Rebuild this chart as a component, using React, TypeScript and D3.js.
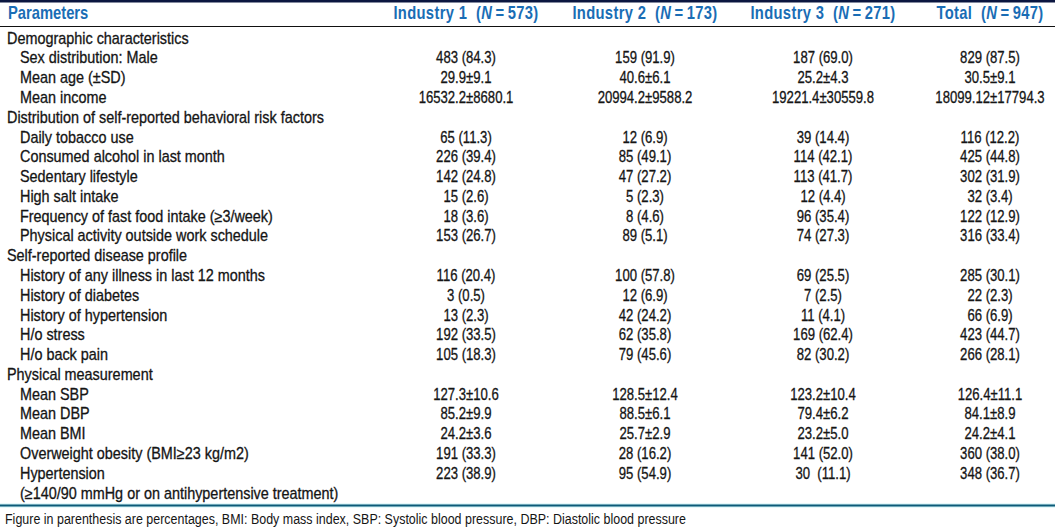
import React from "react";
import * as d3 from "d3";

const columnKeys = ["Parameters", "Industry 1", "Industry 2", "Industry 3", "Total"];
const columnNs = ["", "573", "173", "271", "947"];

const rowLabels = [
  "Demographic characteristics",
  "Sex distribution: Male",
  "Mean age (\u00b1SD)",
  "Mean income",
  "Distribution of self-reported behavioral risk factors",
  "Daily tobacco use",
  "Consumed alcohol in last month",
  "Sedentary lifestyle",
  "High salt intake",
  "Frequency of fast food intake (\u22653/week)",
  "Physical activity outside work schedule",
  "Self-reported disease profile",
  "History of any illness in last 12 months",
  "History of diabetes",
  "History of hypertension",
  "H/o stress",
  "H/o back pain",
  "Physical measurement",
  "Mean SBP",
  "Mean DBP",
  "Mean BMI",
  "Overweight obesity (BMI\u226523 kg/m2)",
  "Hypertension",
  "(\u2265140/90 mmHg or on antihypertensive treatment)",
];

const rowLevels = [0, 1, 1, 1, 0, 1, 1, 1, 1, 1, 1, 0, 1, 1, 1, 1, 1, 0, 1, 1, 1, 1, 1, 1];

const industry1 = [
  "", "483 (84.3)", "29.9\u00b19.1", "16532.2\u00b18680.1",
  "", "65 (11.3)", "226 (39.4)", "142 (24.8)", "15 (2.6)", "18 (3.6)", "153 (26.7)",
  "", "116 (20.4)", "3 (0.5)", "13 (2.3)", "192 (33.5)", "105 (18.3)",
  "", "127.3\u00b110.6", "85.2\u00b19.9", "24.2\u00b13.6", "191 (33.3)", "223 (38.9)", "",
];
const industry2 = [
  "", "159 (91.9)", "40.6\u00b16.1", "20994.2\u00b19588.2",
  "", "12 (6.9)", "85 (49.1)", "47 (27.2)", "5 (2.3)", "8 (4.6)", "89 (5.1)",
  "", "100 (57.8)", "12 (6.9)", "42 (24.2)", "62 (35.8)", "79 (45.6)",
  "", "128.5\u00b112.4", "88.5\u00b16.1", "25.7\u00b12.9", "28 (16.2)", "95 (54.9)", "",
];
const industry3 = [
  "", "187 (69.0)", "25.2\u00b14.3", "19221.4\u00b130559.8",
  "", "39 (14.4)", "114 (42.1)", "113 (41.7)", "12 (4.4)", "96 (35.4)", "74 (27.3)",
  "", "69 (25.5)", "7 (2.5)", "11 (4.1)", "169 (62.4)", "82 (30.2)",
  "", "123.2\u00b110.4", "79.4\u00b16.2", "23.2\u00b15.0", "141 (52.0)", "30  (11.1)", "",
];
const total = [
  "", "829 (87.5)", "30.5\u00b19.1", "18099.12\u00b117794.3",
  "", "116 (12.2)", "425 (44.8)", "302 (31.9)", "32 (3.4)", "122 (12.9)", "316 (33.4)",
  "", "285 (30.1)", "22 (2.3)", "66 (6.9)", "423 (44.7)", "266 (28.1)",
  "", "126.4\u00b111.1", "84.1\u00b18.9", "24.2\u00b14.1", "360 (38.0)", "348 (36.7)", "",
];

const footnote =
  "Figure in parenthesis are percentages, BMI: Body mass index, SBP: Systolic blood pressure, DBP: Diastolic blood pressure";

const W = 1055;
const H = 531;
const FONT = "'Liberation Sans', Arial, sans-serif";

function T(props: any) {
  const { x, y, sx = 0.82, children, ...rest } = props;
  return (
    <text
      transform={`translate(${x},${y}) scale(${sx},1)`}
      dy="0.35em"
      style={{ whiteSpace: "pre" }}
      {...rest}
    >
      {children}
    </text>
  );
}

export default function App() {
  const valueCols = [industry1, industry2, industry3, total];
  const xCol = d3
    .scaleOrdinal<string, number>()
    .domain(columnKeys.slice(1))
    .range([466, 645, 823, 990]);
  const yRow = d3
    .scaleLinear()
    .domain([0, rowLabels.length - 1])
    .range([38, 493]);

  const bodyFill = "#151515";

  return (
    <svg
      width={W}
      height={H}
      style={{ position: "absolute", left: 0, top: 0, background: "#fff" }}
      fontFamily={FONT}
    >
      <rect x={0} y={0} width={W} height={H} fill="#fff" />
      <rect x={0} y={0} width={W} height={2.5} fill="#0b1640" />
      <T x={8} y={13} fontSize={18} fontWeight="bold" fill="#1a6db5">
        {columnKeys[0]}
      </T>
      {columnKeys.slice(1).map((k, i) => (
        <T
          key={k}
          x={xCol(k)}
          y={13}
          textAnchor="middle"
          fontSize={18}
          fontWeight="bold"
          fill="#1a6db5"
          letterSpacing={0.4}
        >
          {k + "  ("}
          <tspan fontStyle="italic">N</tspan>
          {"\u2009=\u2009" + columnNs[i + 1] + ")"}
        </T>
      ))}
      <line x1={0} x2={W} y1={26.5} y2={26.5} stroke="#111" strokeWidth={1.2} />

      {rowLabels.map((lab, i) => (
        <T
          key={"l" + i}
          x={rowLevels[i] === 0 ? 7 : 20}
          y={yRow(i)}
          sx={0.9}
          fontSize={16}
          fill={bodyFill}
          stroke={bodyFill}
          strokeWidth={0.3}
        >
          {lab}
        </T>
      ))}
      {valueCols.map((col, c) =>
        col.map((v, i) =>
          v ? (
            <T
              key={"v" + c + "-" + i}
              x={xCol(columnKeys[c + 1])}
              y={yRow(i)}
              textAnchor="middle"
              fontSize={16}
              fill={bodyFill}
              stroke={bodyFill}
              strokeWidth={0.3}
            >
              {v}
            </T>
          ) : null
        )
      )}
      <line x1={0} x2={W} y1={505.5} y2={505.5} stroke="#9ee8f0" strokeWidth={4} opacity={0.5} />
      <line x1={0} x2={W} y1={505.5} y2={505.5} stroke="#0e5a78" strokeWidth={1.8} />
      <T x={5} y={519} sx={0.86} fontSize={14.5} fill={bodyFill}>
        {footnote}
      </T>
    </svg>
  );
}
